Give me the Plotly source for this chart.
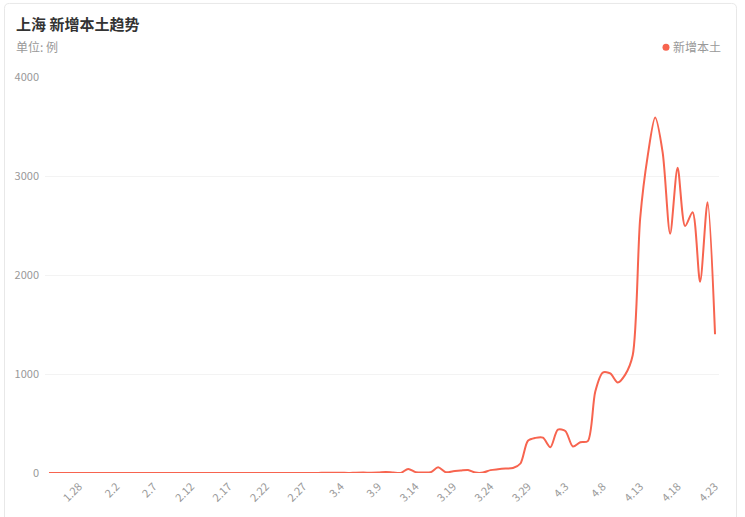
import plotly.graph_objects as go

# ---- data ----
dates = [
    "1.24", "1.25", "1.26", "1.27", "1.28", "1.29", "1.30", "1.31",
    "2.1", "2.2", "2.3", "2.4", "2.5", "2.6", "2.7", "2.8", "2.9", "2.10",
    "2.11", "2.12", "2.13", "2.14", "2.15", "2.16", "2.17", "2.18", "2.19", "2.20",
    "2.21", "2.22", "2.23", "2.24", "2.25", "2.26", "2.27", "2.28",
    "3.1", "3.2", "3.3", "3.4", "3.5", "3.6", "3.7", "3.8", "3.9", "3.10",
    "3.11", "3.12", "3.13", "3.14", "3.15", "3.16", "3.17", "3.18", "3.19", "3.20",
    "3.21", "3.22", "3.23", "3.24", "3.25", "3.26", "3.27", "3.28", "3.29", "3.30", "3.31",
    "4.1", "4.2", "4.3", "4.4", "4.5", "4.6", "4.7", "4.8", "4.9", "4.10",
    "4.11", "4.12", "4.13", "4.14", "4.15", "4.16", "4.17", "4.18", "4.19", "4.20",
    "4.21", "4.22", "4.23",
]
jan_feb_values = [0] * 36
march_values = [1, 3, 2, 3, 0, 3, 4, 3, 4, 11, 5, 1, 41, 9, 5, 8, 57, 8, 17, 24,
                31, 4, 4, 29, 38, 45, 50, 96, 326, 355, 358]
april_values = [260, 438, 425, 268, 311, 322, 824, 1015, 1006, 914, 994, 1189,
                2573, 3200, 3590, 3238, 2417, 3084, 2494, 2634, 1931, 2736, 1401]
values = jan_feb_values + march_values + april_values

tick_labels = ["1.28", "2.2", "2.7", "2.12", "2.17", "2.22", "2.27", "3.4", "3.9",
               "3.14", "3.19", "3.24", "3.29", "4.3", "4.8", "4.13", "4.18", "4.23"]
y_ticks = [0, 1000, 2000, 3000, 4000]

series_name = "新增本土"
title_text = "上海 新增本土趋势"
unit_text = "单位: 例"

# ---- style ----
W, H = 745, 517
ML, MR, MT, MB = 45, 26, 77, 39
PW, PH = W - ML - MR, H - MT - MB
LINE_COLOR = "#f7644f"
FONT = "Noto Sans CJK SC, Noto Sans, sans-serif"


def px_x(p):
    return (p - ML) / PW


def px_y(p):
    return (H - MB - p) / PH


fig = go.Figure()
fig.add_trace(go.Scatter(
    x=dates, y=values, mode="lines", name=series_name,
    line=dict(color=LINE_COLOR, width=2, shape="spline", smoothing=0.8),
    showlegend=False, hoverinfo="x+y",
))

# card border (rounded rectangle)
x0, x1 = px_x(4.5), px_x(736.5)
y0, y1 = px_y(2.5), px_y(530)
rx, ry = 5 / PW, 5 / PH
path = (f"M {x0+rx},{y0} L {x1-rx},{y0} Q {x1},{y0} {x1},{y0-ry} "
        f"L {x1},{y1} L {x0},{y1} L {x0},{y0-ry} Q {x0},{y0} {x0+rx},{y0} Z")
shapes = [
    dict(type="path", path=path, xref="paper", yref="paper",
         line=dict(color="#e8e8e8", width=1), fillcolor="rgba(0,0,0,0)", layer="below"),
    dict(type="circle", xref="paper", yref="paper", xsizemode="pixel", ysizemode="pixel",
         xanchor=px_x(666), yanchor=px_y(47), x0=-3.5, x1=3.5, y0=-3.5, y1=3.5,
         fillcolor=LINE_COLOR, line=dict(width=0)),
]

annotations = [
    dict(text=f"<b>{title_text}</b>", xref="paper", yref="paper", x=px_x(14), y=px_y(23),
         xanchor="left", yanchor="middle", showarrow=False,
         font=dict(family=FONT, size=15, color="#333333")),
    dict(text=unit_text, xref="paper", yref="paper", x=px_x(14), y=px_y(46),
         xanchor="left", yanchor="middle", showarrow=False,
         font=dict(family=FONT, size=12, color="#999999")),
    dict(text=series_name, xref="paper", yref="paper", x=px_x(723), y=px_y(46),
         xanchor="right", yanchor="middle", showarrow=False,
         font=dict(family=FONT, size=12, color="#999999")),
]

fig.update_layout(
    width=W, height=H,
    margin=dict(l=ML, r=MR, t=MT, b=MB),
    paper_bgcolor="white", plot_bgcolor="white",
    font=dict(family=FONT, size=11, color="#999999"),
    shapes=shapes, annotations=annotations,
    showlegend=False,
    xaxis=dict(
        type="category", range=[-0.53, len(dates) - 1 + 0.53],
        tickmode="array", tickvals=tick_labels, ticktext=tick_labels,
        tickangle=-45, showgrid=False, showline=False, zeroline=False,
        ticks="", tickfont=dict(size=11, color="#999999"), ticklabelstandoff=4,
    ),
    yaxis=dict(
        range=[0, 4000], tickvals=y_ticks, showgrid=True, gridcolor="#f3f3f3",
        gridwidth=1, zeroline=False, showline=False, ticks="",
        tickfont=dict(size=11, color="#999999"), ticklabelstandoff=5,
    ),
)

fig.write_html("out.html", config={"displayModeBar": False},
               post_script="document.body.style.margin='0px';")
